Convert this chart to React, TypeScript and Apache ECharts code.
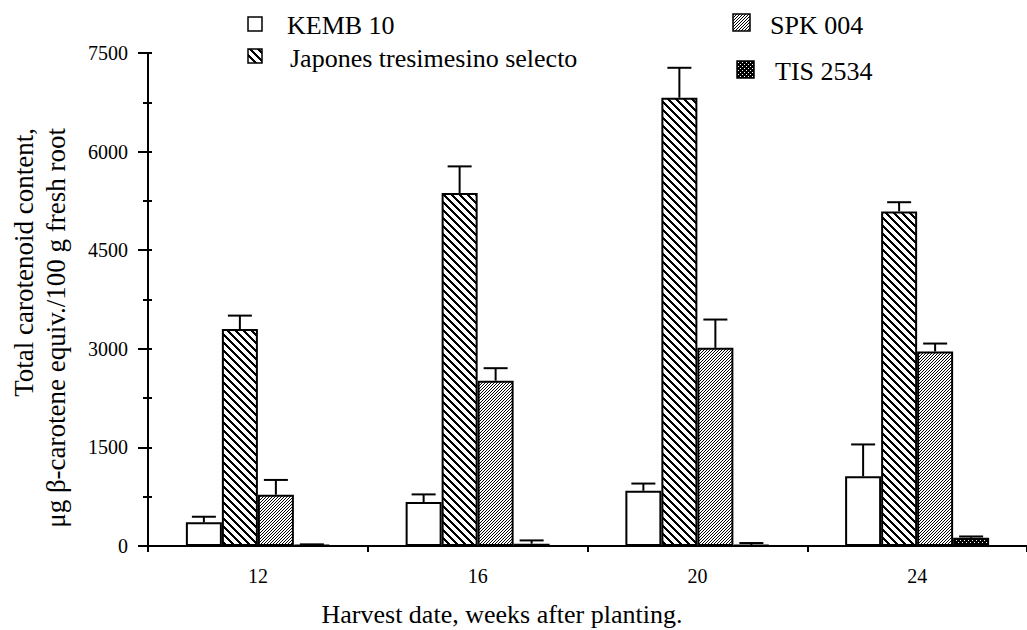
import React, { useEffect, useRef } from 'react';
import * as echarts from 'echarts';

const categories = ['12', '16', '20', '24'];
const seriesNames = ['KEMB 10', 'Japones tresimesino selecto', 'SPK 004', 'TIS 2534'];
const kemb = [360, 670, 840, 1060];
const kembErr = [85, 115, 110, 485];
const japones = [3300, 5370, 6820, 5090];
const japonesErr = [205, 405, 455, 140];
const spk = [780, 2515, 3015, 2960];
const spkErr = [225, 190, 430, 120];
const tis = [15, 35, 15, 125];
const tisErr = [10, 50, 30, 20];
const yMin = 0;
const yMax = 7500;
const yInterval = 1500;

const FONT = 'Liberation Serif';
const BAR_W = 36;

function makePattern(w: number, h: number, isBlack: (x: number, y: number) => boolean) {
  const c = document.createElement('canvas');
  c.width = w;
  c.height = h;
  const ctx = c.getContext('2d')!;
  const img = ctx.createImageData(w, h);
  for (let y = 0; y < h; y++) {
    for (let x = 0; x < w; x++) {
      const i = (y * w + x) * 4;
      const v = isBlack(x, y) ? 0 : 255;
      img.data[i] = v;
      img.data[i + 1] = v;
      img.data[i + 2] = v;
      img.data[i + 3] = 255;
    }
  }
  ctx.putImageData(img, 0, 0);
  return { image: c.toDataURL(), imageWidth: w, imageHeight: h, repeat: 'repeat' };
}

export default function App() {
  const ref = useRef<HTMLDivElement>(null);
  useEffect(() => {
    document.body.style.margin = '0';
    const chart = echarts.init(ref.current!, undefined, { renderer: 'svg' });

    const backslash = makePattern(8, 8, (x, y) => (((x - y) % 8) + 8) % 8 < 3);
    const fineSlash = makePattern(3, 3, (x, y) => (x + y) % 3 === 0);
    const dots = makePattern(4, 4, (x, y) => !((x === 0 && y === 0) || (x === 2 && y === 2)));
    const fills: any[] = ['#ffffff', backslash, fineSlash, dots];
    const values = [kemb, japones, spk, tis];
    const errs = [kembErr, japonesErr, spkErr, tisErr];

    const barSeries = values.map((vals, si) => ({
      name: seriesNames[si],
      type: 'bar',
      data: vals,
      barWidth: BAR_W,
      barGap: '0%',
      itemStyle: { color: fills[si], borderColor: '#000', borderWidth: 2 },
      z: 2,
    }));

    const errData: number[][] = [];
    values.forEach((vals, si) => {
      vals.forEach((v, ci) => errData.push([ci, v, errs[si][ci], si]));
    });

    const legendItems = [
      { name: seriesNames[0], bx: 248, by: 17, bs: 14, tx: 287, ty: 25, fill: fills[0] },
      { name: seriesNames[1], bx: 248, by: 49, bs: 14, tx: 290, ty: 58, fill: fills[1] },
      { name: seriesNames[2], bx: 733, by: 14, bs: 17, tx: 770, ty: 25, fill: fills[2] },
      { name: seriesNames[3], bx: 737, by: 61, bs: 17, tx: 775, ty: 71, fill: fills[3] },
    ];
    const txt = (size: number) => ({ fontFamily: FONT, fontSize: size, fill: '#000' });
    const graphics: any[] = [];
    legendItems.forEach((it) => {
      graphics.push({
        type: 'rect',
        shape: { x: it.bx, y: it.by, width: it.bs, height: it.bs },
        style: { fill: it.fill, stroke: '#000', lineWidth: 1.5 },
      });
      graphics.push({
        type: 'text',
        x: it.tx,
        y: it.ty,
        style: { text: it.name, ...txt(26), align: 'left', verticalAlign: 'middle' },
      });
    });
    graphics.push({
      type: 'text',
      x: 24,
      y: 128,
      rotation: Math.PI / 2,
      style: { text: 'Total carotenoid content,', ...txt(27), align: 'right', verticalAlign: 'middle' },
    });
    graphics.push({
      type: 'text',
      x: 56,
      y: 128,
      rotation: Math.PI / 2,
      style: { text: 'μg β-carotene equiv./100 g fresh root', ...txt(27), align: 'right', verticalAlign: 'middle' },
    });
    graphics.push({
      type: 'text',
      x: 502,
      y: 614,
      style: { text: 'Harvest date, weeks after planting.', ...txt(26), align: 'center', verticalAlign: 'middle' },
    });

    chart.setOption({
      animation: false,
      backgroundColor: '#ffffff',
      grid: { left: 148, top: 53, width: 888, height: 493 },
      xAxis: {
        type: 'category',
        data: categories,
        boundaryGap: true,
        axisLine: { lineStyle: { color: '#000', width: 2 } },
        axisTick: { show: true, length: 6, interval: 0, lineStyle: { color: '#000', width: 2 } },
        axisLabel: { color: '#000', fontSize: 20, fontFamily: FONT, margin: 20 },
      },
      yAxis: [
        {
          type: 'value',
          min: yMin,
          max: yMax,
          interval: yInterval,
          axisLine: { show: true, lineStyle: { color: '#000', width: 2 } },
          axisTick: { show: true, length: 10, lineStyle: { color: '#000', width: 2 } },
          minorTick: { show: true, splitNumber: 2, length: 5, lineStyle: { color: '#000', width: 2 } },
          splitLine: { show: false },
          axisLabel: {
            color: '#000',
            fontSize: 20,
            fontFamily: FONT,
            margin: 20,
            formatter: (v: number) => String(v),
          },
        },
        {
          type: 'value',
          position: 'left',
          min: yMin,
          max: yMax,
          interval: yInterval,
          axisLine: { show: false },
          axisTick: { show: true, inside: true, length: 4, lineStyle: { color: '#000', width: 2 } },
          minorTick: { show: true, splitNumber: 2, length: 4, lineStyle: { color: '#000', width: 2 } },
          splitLine: { show: false },
          axisLabel: { show: false },
        },
      ],
      series: [
        ...barSeries,
        {
          type: 'custom',
          name: 'error',
          data: errData,
          encode: { x: 0, y: 1 },
          z: 3,
          renderItem: (params: any, api: any) => {
            const ci = api.value(0);
            const v = api.value(1);
            const e = api.value(2);
            const si = api.value(3);
            const p0 = api.coord([ci, v]);
            const p1 = api.coord([ci, v + e]);
            const x = p0[0] + (si - 1.5) * BAR_W;
            return {
              type: 'group',
              children: [
                { type: 'line', shape: { x1: x, y1: p0[1], x2: x, y2: p1[1] }, style: { stroke: '#000', lineWidth: 2 } },
                { type: 'line', shape: { x1: x - 12, y1: p1[1], x2: x + 12, y2: p1[1] }, style: { stroke: '#000', lineWidth: 2 } },
              ],
            };
          },
        },
      ],
      graphic: graphics,
    });
    return () => chart.dispose();
  }, []);
  return <div ref={ref} style={{ width: 1027, height: 630 }} />;
}
